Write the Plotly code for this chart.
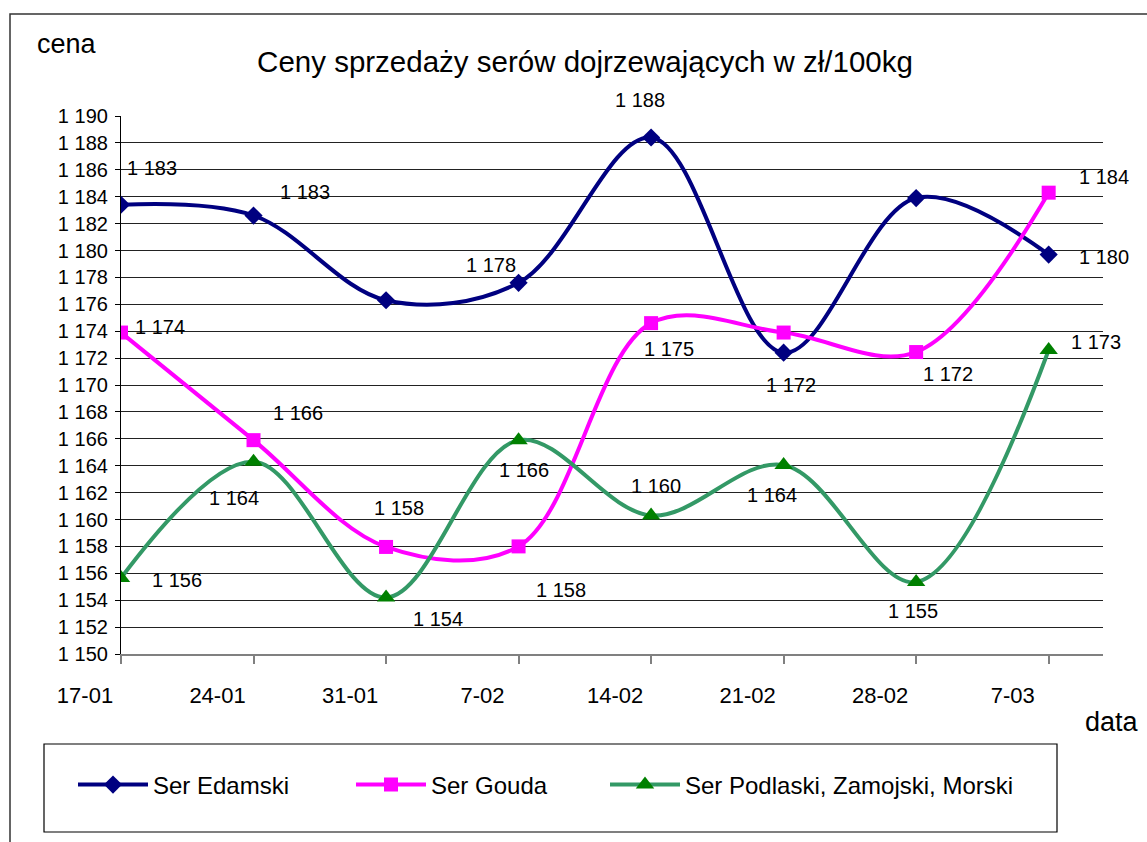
import plotly.graph_objects as go

# ---- data ----
dates = ["17-01", "24-01", "31-01", "7-02", "14-02", "21-02", "28-02", "7-03"]
edamski = [1183.4, 1182.6, 1176.3, 1177.6, 1188.4, 1172.4, 1183.9, 1179.7]
gouda = [1173.9, 1165.9, 1157.96, 1158.0, 1174.6, 1173.9, 1172.45, 1184.3]
podlaski = [1155.65, 1164.3, 1154.2, 1165.9, 1160.3, 1164.05, 1155.35, 1172.6]
series_names = ["Ser Edamski", "Ser Gouda", "Ser Podlaski, Zamojski, Morski"]
y_ticks = list(range(1150, 1191, 2))

# label offsets (pixels, dx right, dy down); None = no label shown
edamski_lbl = [(31, -37), (51, -24), None, (-28, -18), (-11, -38), (7, 32), None, (55, 2)]
gouda_lbl = [(39, -6), (44, -27), (13, -39), (42, 44), (18, 26), None, (32, 22), (55, -16)]
podlaski_lbl = [(56, 2), (-20, 36), (52, 21), (5, 30), (5, -29), (-12, 30), (-3, 29), (47, -8)]

FONT = "Liberation Sans, Arial, sans-serif"

# plot area in pixels
W, H = 1147, 842
L, R, T, B = 121, 1103, 116, 654


def px(xp):
    return (xp - L) / (R - L)


def py(yp):
    return (B - yp) / (B - T)


def fmt(v):
    return f"{round(v):,}".replace(",", " ")


xs = list(range(len(dates)))
fig = go.Figure()

styles = [
    dict(color="#000080", symbol="diamond", msize=14, mcolor="#000080"),
    dict(color="#FF00FF", symbol="square", msize=14, mcolor="#FF00FF"),
    dict(color="#339966", symbol="triangle-up", msize=16, mcolor="#008000"),
]
legends = ["legend", "legend2", "legend3"]
for vals, name, st, lg in zip([edamski, gouda, podlaski], series_names, styles, legends):
    fig.add_trace(go.Scatter(
        x=xs, y=vals, name=name, mode="lines+markers", showlegend=True,
        line=dict(color=st["color"], width=4, shape="spline", smoothing=1),
        marker=dict(symbol=st["symbol"], size=st["msize"], color=st["mcolor"]),
        legend=lg, hoverinfo="skip",
    ))

annotations = []
for vals, offs in zip([edamski, gouda, podlaski], [edamski_lbl, gouda_lbl, podlaski_lbl]):
    for i, (v, o) in enumerate(zip(vals, offs)):
        if o is None:
            continue
        annotations.append(dict(
            x=i, y=v, xref="x", yref="y", text=fmt(v), showarrow=False,
            xshift=o[0], yshift=-o[1], font=dict(family=FONT, size=20, color="black"),
        ))

annotations.append(dict(x=px(35), y=py(44), xref="paper", yref="paper", text="cena",
                        showarrow=False, xanchor="left", yanchor="middle",
                        font=dict(family=FONT, size=27, color="black")))
annotations.append(dict(x=px(1083), y=py(722), xref="paper", yref="paper", text="data",
                        showarrow=False, xanchor="left", yanchor="middle",
                        font=dict(family=FONT, size=27, color="black")))

shapes = [
    # outer chart frame
    dict(type="rect", xref="paper", yref="paper", x0=px(10), x1=px(1160), y0=py(870), y1=py(14),
         line=dict(color="#333333", width=1.5), fillcolor="rgba(0,0,0,0)", layer="below"),
    # legend box
    dict(type="rect", xref="paper", yref="paper", x0=px(44), x1=px(1057), y0=py(832), y1=py(744),
         line=dict(color="black", width=1.2), fillcolor="rgba(0,0,0,0)"),
]

leg_common = dict(orientation="h", xanchor="left", yanchor="middle", y=py(785),
                  bgcolor="rgba(0,0,0,0)", borderwidth=0, itemwidth=70,
                  font=dict(family=FONT, size=24, color="black"))

fig.update_layout(
    width=W, height=H,
    margin=dict(l=L, r=W - R, t=T, b=H - B, pad=0),
    paper_bgcolor="white", plot_bgcolor="white",
    separators=", ",
    showlegend=True,
    title=dict(text="Ceny sprzedaży serów dojrzewających w zł/100kg",
               x=585 / W, xanchor="center", y=1 - 62 / H, yanchor="middle", yref="container",
               font=dict(family=FONT, size=29.5, color="black")),
    font=dict(family=FONT, color="black"),
    xaxis=dict(range=[0, 7.41], tickvals=xs, ticktext=dates, showgrid=False, zeroline=False,
               showline=True, linecolor="#808080", linewidth=1.5,
               ticks="outside", ticklen=8, tickcolor="#808080", tickwidth=1.5,
               ticklabelshift=-36, ticklabelstandoff=13,
               tickfont=dict(family=FONT, size=22, color="black"), fixedrange=True),
    yaxis=dict(range=[1150, 1190], tickvals=y_ticks, tickformat=",d", showgrid=True,
               gridcolor="#222222", gridwidth=1, zeroline=False,
               showline=True, linecolor="black", linewidth=1.2,
               ticks="outside", ticklen=5, tickcolor="black",
               ticklabelstandoff=3,
               tickfont=dict(family=FONT, size=20, color="black"), fixedrange=True),
    legend=dict(x=px(73), **leg_common),
    legend2=dict(x=px(351), **leg_common),
    legend3=dict(x=px(605), **leg_common),
    annotations=annotations,
    shapes=shapes,
)

fig.write_html("out.html", config={"displayModeBar": False},
               post_script="document.body.style.margin='0px';document.body.style.overflow='hidden';")
